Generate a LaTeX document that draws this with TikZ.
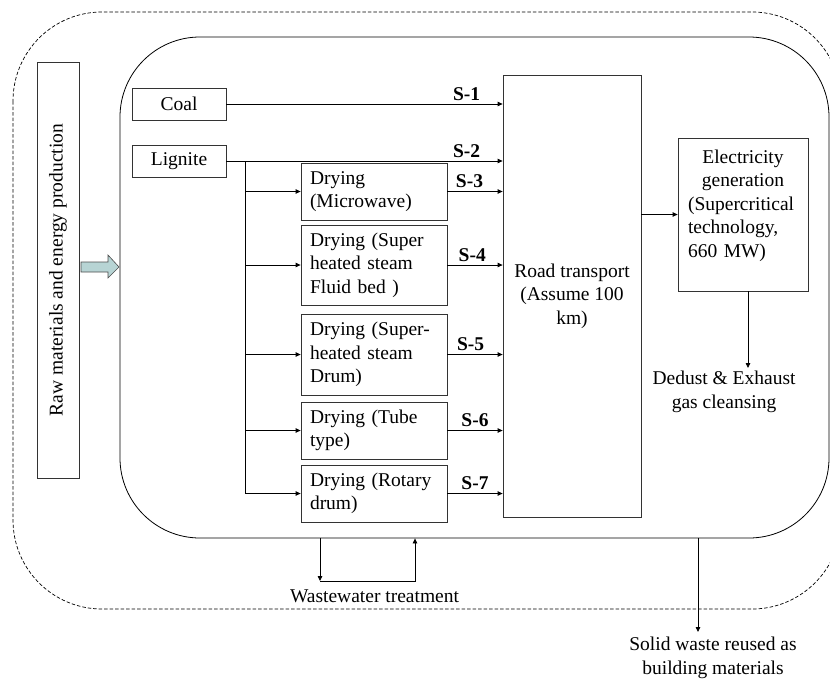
\documentclass[tikz,border=0pt]{standalone}
\usepackage{fontspec}
\setmainfont{Liberation Serif}
\usetikzlibrary{arrows.meta}
\newcommand{\diagfont}{\fontsize{19.5}{23.5}\selectfont}
\definecolor{flowblue}{RGB}{183,212,212}

\begin{document}
\begin{tikzpicture}[x=1pt, y=-1pt, font=\diagfont,
    box/.style={draw=black!80, line width=0.8pt, inner sep=0pt},
    drybox/.style={box, minimum width=146pt, text width=128pt, align=left},
    arr/.style={line width=0.8pt, -{Triangle[length=5pt, width=4.5pt]}},
    slabel/.style={above, inner sep=3pt, font={\diagfont\bfseries}}]
    \useasboundingbox (0,0) rectangle (830,678);
    \clip (0,0) rectangle (830,678);

    % System boundary (dashed) and the plant (solid)
    \draw[black, line width=0.7pt, dash pattern=on 3.5pt off 2pt, rounded corners=89pt] (13,12) rectangle (841,609);
    \node[draw, line width=0.8pt, rounded corners=80pt, minimum width=709pt, minimum height=501pt] (plant) at (474.5,287.5) {};

    % Inputs from outside
    \node[box, rotate=90, minimum width=416pt, minimum height=42pt] (raw) at (58,270) {Raw materials and energy production};
    \draw[draw=black!70, fill=flowblue, line width=0.6pt] (81,262) -- (108,262) -- (108,255) -- (119,267) -- (108,278) -- (108,272) -- (81,272) -- cycle;

    % Fuels
    \node[box, minimum width=94pt, minimum height=32pt] (coal) at (179,104) {Coal};
    \node[box, minimum width=94pt, minimum height=32pt] (lignite) at (179,161) {Lignite};

    % Drying options
    \node[drybox, minimum height=57pt] (dry1) at (374,191.5) {Drying\\(Microwave)};
    \node[drybox, minimum height=80pt] (dry2) at (374,265) {Drying (Super\\heated steam\\Fluid bed )};
    \node[drybox, minimum height=81pt] (dry3) at (374,354.5) {Drying (Super-\\heated steam\\Drum)};
    \node[drybox, minimum height=57pt] (dry4) at (374,430.5) {Drying (Tube\\type)};
    \node[drybox, minimum height=57pt] (dry5) at (374,493.5) {Drying (Rotary\\drum)};

    % Transport and power plant
    \node[box, minimum width=138pt, minimum height=442pt, align=center] (road) at (572,296) {Road transport\\(Assume 100\\km)};
    \node[box, minimum width=130pt, minimum height=153pt] (elec) at (743,214.5) {};
    \node[anchor=north, inner sep=0pt, text width=110pt, align=left] (electxt) at ([yshift=-12pt]elec.north)
        {\makebox[\linewidth]{Electricity}\\ \makebox[\linewidth]{generation}\\ (Supercritical\\ technology,\\ 660 MW)};

    % Outputs
    \node[align=center] (dedust) at (724,392) {Dedust \& Exhaust\\gas cleansing};
    \node (wwt) at (374.5,596) {Wastewater treatment};
    \node[align=center] (solid) at (713,658) {Solid waste reused as\\building materials};

    % Streams S-1 ... S-7
    \draw[arr] (coal.east) -- (coal.east -| road.west) node[slabel, pos=0.87] {S-1};
    \draw[arr] (lignite.east) -- (lignite.east -| road.west) node[slabel, pos=0.87] {S-2};
    \draw[arr] (dry1.east) -- (dry1.east -| road.west) node[slabel, pos=0.4] {S-3};
    \draw[arr] (dry2.east) -- (dry2.east -| road.west) node[slabel, pos=0.45] {S-4};
    \draw[arr] (dry3.east) -- (dry3.east -| road.west) node[slabel, pos=0.42] {S-5};
    \draw[arr] (dry4.east) -- (dry4.east -| road.west) node[slabel, pos=0.5] {S-6};
    \draw[arr] (dry5.east) -- (dry5.east -| road.west) node[slabel, pos=0.5] {S-7};

    % Lignite to the dryers
    \coordinate (jn) at (245,161);
    \draw[line width=0.8pt] (jn) -- (jn |- dry5.west);
    \foreach \d in {dry1,dry2,dry3,dry4,dry5}
        \draw[arr] (jn |- \d.west) -- (\d.west);

    % Power plant and its outputs
    \draw[arr] (elec.west -| road.east) -- (elec.west);
    \coordinate (gas) at (748,368);
    \draw[arr] (elec.south -| gas) -- (gas);

    \coordinate (wout) at (320,581);
    \coordinate (win) at (415,581);
    \draw[arr] (plant.south -| wout) -- (wout);
    \draw[arr] (wout) -- (win) -- (plant.south -| win);

    \coordinate (sw) at (698,632);
    \draw[arr] (plant.south -| sw) -- (sw);
\end{tikzpicture}
\end{document}
